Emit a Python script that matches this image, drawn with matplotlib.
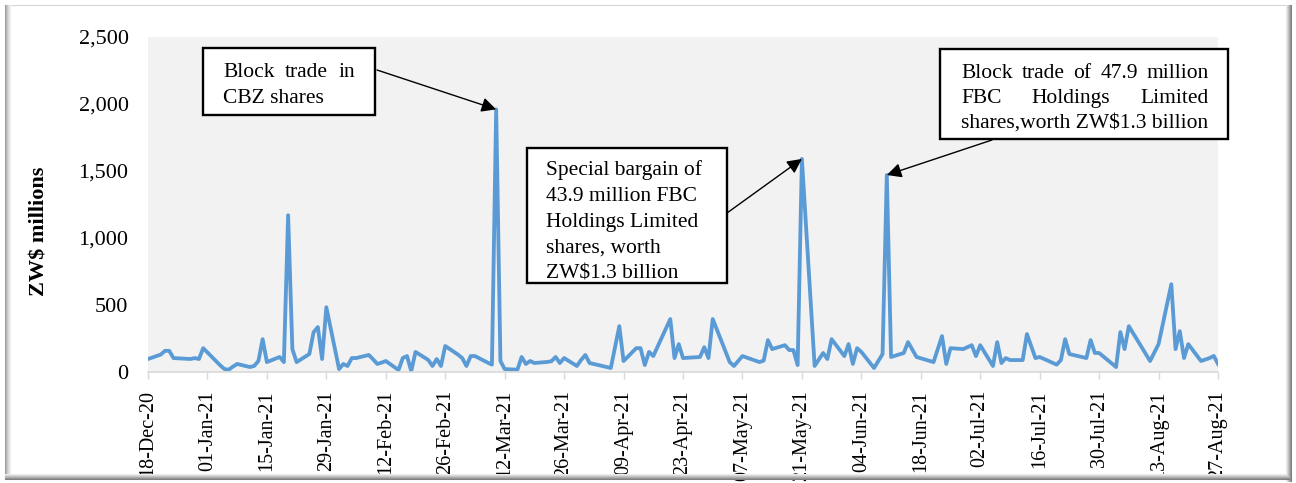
import matplotlib
matplotlib.use("Agg")
import matplotlib.pyplot as plt
import pandas as pd
from matplotlib.patches import Rectangle
from matplotlib.lines import Line2D

plt.rcParams["font.family"] = ["Liberation Serif", "DejaVu Serif"]

# daily turnover, ZW$ millions
dates = [
    "2020-12-18", "2020-12-21", "2020-12-22", "2020-12-23", "2020-12-24", "2020-12-28",
    "2020-12-29", "2020-12-30", "2020-12-31", "2021-01-04", "2021-01-05", "2021-01-06",
    "2021-01-07", "2021-01-08", "2021-01-11", "2021-01-12", "2021-01-13", "2021-01-14",
    "2021-01-15", "2021-01-18", "2021-01-19", "2021-01-20", "2021-01-21", "2021-01-22",
    "2021-01-25", "2021-01-26", "2021-01-27", "2021-01-28", "2021-01-29", "2021-02-01",
    "2021-02-02", "2021-02-03", "2021-02-04", "2021-02-05", "2021-02-08", "2021-02-09",
    "2021-02-10", "2021-02-11", "2021-02-12", "2021-02-15", "2021-02-16", "2021-02-17",
    "2021-02-18", "2021-02-19", "2021-02-22", "2021-02-23", "2021-02-24", "2021-02-25",
    "2021-02-26", "2021-03-01", "2021-03-02", "2021-03-03", "2021-03-04", "2021-03-05",
    "2021-03-08", "2021-03-09", "2021-03-10", "2021-03-11", "2021-03-12", "2021-03-15",
    "2021-03-16", "2021-03-17", "2021-03-18", "2021-03-19", "2021-03-22", "2021-03-23",
    "2021-03-24", "2021-03-25", "2021-03-26", "2021-03-29", "2021-03-30", "2021-03-31",
    "2021-04-01", "2021-04-06", "2021-04-08", "2021-04-09", "2021-04-12", "2021-04-13",
    "2021-04-14", "2021-04-15", "2021-04-16", "2021-04-20", "2021-04-21", "2021-04-22",
    "2021-04-23", "2021-04-27", "2021-04-28", "2021-04-29", "2021-04-30", "2021-05-04",
    "2021-05-05", "2021-05-07", "2021-05-11", "2021-05-12", "2021-05-13", "2021-05-14",
    "2021-05-17", "2021-05-18", "2021-05-19", "2021-05-20", "2021-05-21", "2021-05-24",
    "2021-05-26", "2021-05-27", "2021-05-28", "2021-05-31", "2021-06-01", "2021-06-02",
    "2021-06-03", "2021-06-04", "2021-06-07", "2021-06-09", "2021-06-10", "2021-06-11",
    "2021-06-14", "2021-06-15", "2021-06-17", "2021-06-21", "2021-06-23", "2021-06-24",
    "2021-06-25", "2021-06-28", "2021-06-30", "2021-07-01", "2021-07-02", "2021-07-05",
    "2021-07-06", "2021-07-07", "2021-07-08", "2021-07-09", "2021-07-12", "2021-07-13",
    "2021-07-15", "2021-07-16", "2021-07-20", "2021-07-21", "2021-07-22", "2021-07-23",
    "2021-07-27", "2021-07-28", "2021-07-29", "2021-07-30", "2021-08-03", "2021-08-04",
    "2021-08-05", "2021-08-06", "2021-08-11", "2021-08-13", "2021-08-16", "2021-08-17",
    "2021-08-18", "2021-08-19", "2021-08-20", "2021-08-23", "2021-08-25", "2021-08-26",
    "2021-08-27",
]
turnover = [
    97, 130, 158, 158, 104, 97,
    104, 97, 178, 50, 22, 17,
    40, 60, 37, 45, 82, 245,
    74, 112, 74, 1170, 171, 74,
    134, 297, 335, 97, 483, 22,
    60, 45, 104, 104, 127, 95,
    60, 70, 82, 15, 104, 119,
    7, 150, 90, 45, 97, 45,
    194, 130, 104, 45, 119, 119,
    70, 55, 1960, 82, 22, 17,
    112, 60, 82, 67, 75, 80,
    112, 67, 104, 45, 90, 127,
    67, 30, 342, 82, 178, 178,
    52, 150, 119, 395, 104, 208,
    104, 112, 185, 104, 395, 74,
    45, 119, 74, 85, 238, 171,
    200, 164, 164, 52, 1590, 45,
    142, 97, 245, 119, 208, 60,
    178, 150, 30, 134, 1470, 112,
    142, 223, 112, 74, 268, 60,
    178, 171, 200, 119, 200, 45,
    223, 67, 104, 89, 89, 283,
    104, 112, 55, 89, 245, 134,
    104, 238, 142, 142, 37, 298,
    171, 342, 82, 208, 655, 171,
    305, 104, 208, 82, 104, 120,
    60,
]

# callouts: (text lines, justified?, date of the spike)
callout_text = [
    ["Block trade in", "CBZ shares"],
    ["Special bargain of", "43.9 million FBC", "Holdings Limited", "shares, worth", "ZW$1.3 billion"],
    ["Block trade of 47.9 million", "FBC Holdings Limited", "shares,worth ZW$1.3 billion"],
]
callout_justify = [
    [True, False],
    [False, False, False, False, False],
    [True, True, False],
]
callout_dates = ["2021-03-10", "2021-05-21", "2021-06-10"]

W, H = 1296, 483
FS = 15.5

dt = pd.to_datetime(dates)
series = pd.Series(turnover, index=dt)

fig = plt.figure(figsize=(W / 100, H / 100), dpi=100)
ax = fig.add_axes([148 / W, 1 - 372 / H, 1070 / W, 335 / H])
ax.set_facecolor("#F2F2F2")
ax.plot(series.index, series.values, color="#5B9BD5", lw=2.75, solid_joinstyle="round")

start, end = pd.Timestamp("2020-12-18"), pd.Timestamp("2021-08-27")
ax.set_xlim(start, end)
ax.set_ylim(0, 2500)
ticks = pd.date_range(start, end, freq="14D")
ax.set_xticks(ticks)
ax.set_xticklabels([t.strftime("%d-%b-%y") for t in ticks], rotation=90)
ax.set_yticks(range(0, 2501, 500))
ax.set_yticklabels([f"{v:,}" for v in range(0, 2501, 500)])
ax.tick_params(axis="y", length=0, pad=14, labelsize=16)
ax.tick_params(axis="x", length=5, width=1, color="#D9D9D9", pad=8, labelsize=14.5)
for s in ["top", "right", "left"]:
    ax.spines[s].set_visible(False)
ax.spines["bottom"].set_color("#D9D9D9")
ax.spines["bottom"].set_linewidth(1.2)

ax.set_ylabel("ZW$ millions", fontsize=16, fontweight="bold")
ax.yaxis.set_label_coords(-0.0916, 0.42)


def fx(px):
    return (px - 148) / 1070


def fy(py):
    return (372 - py) / 335


renderer = fig.canvas.get_renderer()


def write_lines(lines, justify, x0, x1, baselines):
    for line, just, y in zip(lines, justify, baselines):
        if not just:
            ax.text(x0, y, line, transform=ax.transAxes, fontsize=FS, va="baseline", zorder=6)
            continue
        words = line.split()
        objs = [ax.text(x0, y, w, transform=ax.transAxes, fontsize=FS, va="baseline", zorder=6)
                for w in words]
        widths = [o.get_window_extent(renderer).width / ax.bbox.width for o in objs]
        gap = (x1 - x0 - sum(widths)) / (len(words) - 1)
        x = x0
        for o, w in zip(objs, widths):
            o.set_x(x)
            x += w + gap


# box geometry in pixels: left, right, top, bottom, text left, text right, first baseline, step
boxes = [
    (203, 375, 48, 115, 223, 355, 77, 26),
    (527, 727, 148, 283, 546, 712, 175, 26),
    (940, 1228, 49, 139, 961, 1209, 78, 25),
]
arrow_starts = [(377, 70), (727, 213), (992, 140)]

for (l, r, t, b, tl, tr, base, step), lines, just, d, (sx, sy) in zip(
        boxes, callout_text, callout_justify, callout_dates, arrow_starts):
    ax.add_patch(Rectangle((fx(l), fy(b)), fx(r) - fx(l), fy(t) - fy(b), transform=ax.transAxes,
                           facecolor="white", edgecolor="black", lw=1.7, clip_on=False, zorder=5))
    baselines = [fy(base + i * step) for i in range(len(lines))]
    write_lines(lines, just, fx(tl), fx(tr), baselines)
    day = pd.Timestamp(d)
    ax.annotate("", xy=(day, series[day]), xytext=(fx(sx), fy(sy)), textcoords="axes fraction",
                arrowprops=dict(arrowstyle="-|>", color="black", lw=1, mutation_scale=22,
                                shrinkA=0, shrinkB=0), zorder=4, annotation_clip=False)


# picture frame with a soft shadow
def vline(x, y0, y1, c):
    fig.add_artist(Line2D([x / W, x / W], [1 - y0 / H, 1 - y1 / H], color=c, lw=0.75,
                          transform=fig.transFigure))


def hline(y, x0, x1, c):
    fig.add_artist(Line2D([x0 / W, x1 / W], [1 - y / H, 1 - y / H], color=c, lw=0.75,
                          transform=fig.transFigure))


hline(5, 5, 1290, "#D4D4D4")
for i, c in enumerate(["#A0A0A0", "#B4B4B4", "#C8C8C8", "#D8D8D8", "#E6E6E6", "#F0F0F0"]):
    vline(4.5 + i, 5, 478, c)
for i, c in enumerate(["#ECECEC", "#DADADA", "#C4C4C4", "#ADADAD", "#969696", "#808080"]):
    vline(1285.5 + i, 5, 481, c)
    hline(473.5 + i, 5, 1291, c)

fig.savefig("out.png", dpi=100)
